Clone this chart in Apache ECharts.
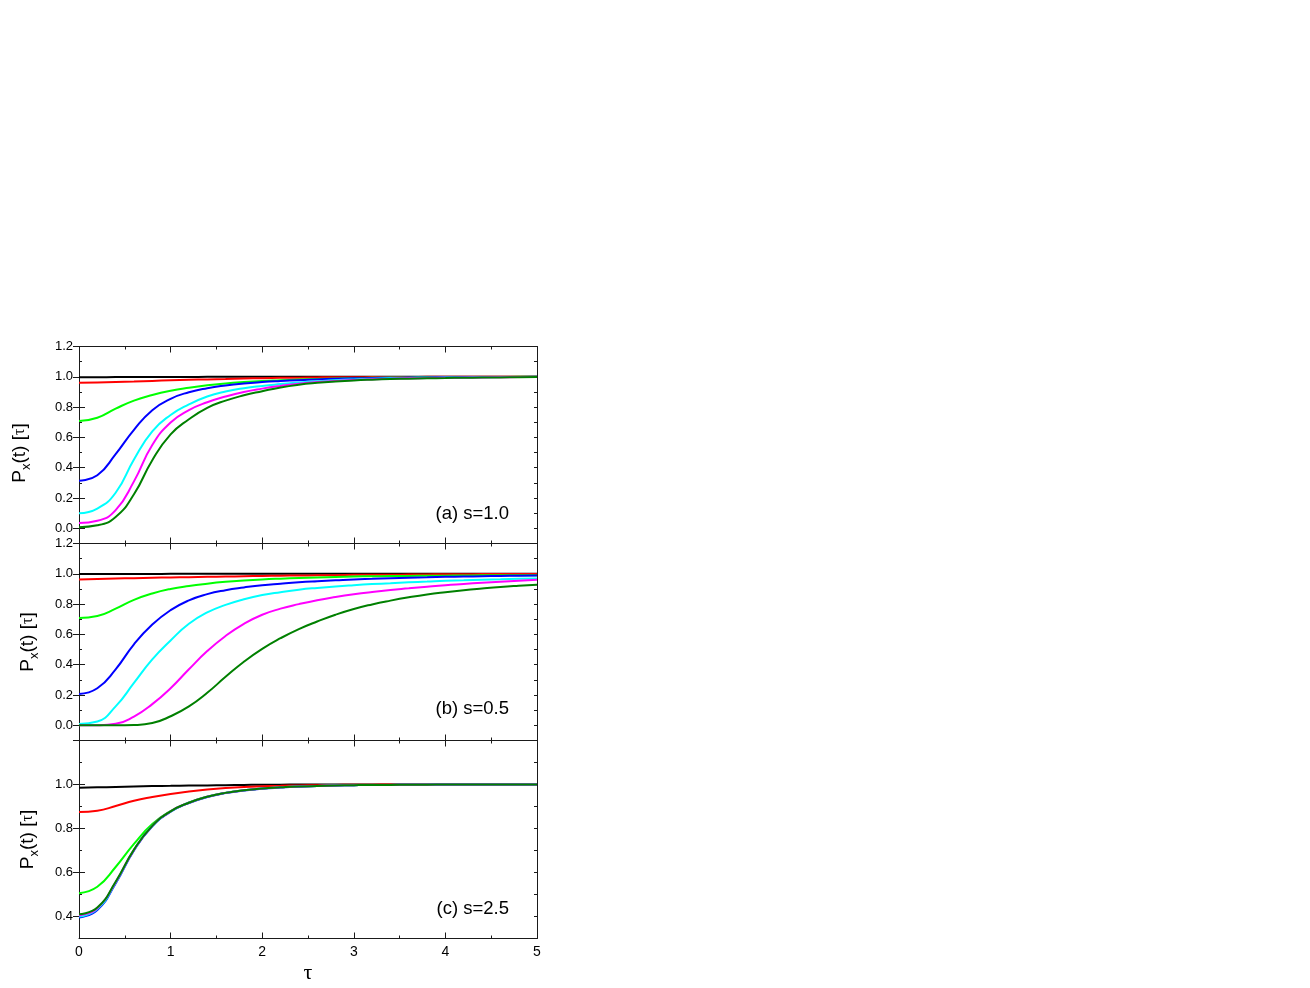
<!DOCTYPE html>
<html><head><meta charset="utf-8">
<script src="https://cdn.jsdelivr.net/npm/echarts@6/dist/echarts.min.js"></script>
<style>html,body{margin:0;padding:0;background:#fff}#c{width:1310px;height:988px}</style>
</head><body><div id="c"></div>
<script>
// ---- data ----
const tau = [0,0.2,0.4,0.6,0.8,1.0,1.2,1.4,1.6,1.8,2.0,2.2,2.4,2.6,2.8,3.0,3.2,3.4,3.6,3.8,4.0,4.2,4.4,4.6,4.8,5.0];
const xTicks = [0,1,2,3,4,5];
const panelLabels = ['(a) s=1.0','(b) s=0.5','(c) s=2.5'];
const seriesColors = ['#000000','#ff0000','#00ff00','#0000ff','#00ffff','#ff00ff','#008000'];

// panel (a) s=1.0
const aBlack   = [0.997,0.997,0.998,0.998,0.999,0.999,0.999,1,1,1,1,1,1,1,1,1,1,1,1,1,1,1,1,1,1,1];
const aRed     = [0.960,0.963,0.966,0.969,0.973,0.977,0.980,0.983,0.986,0.989,0.991,0.993,0.994,0.996,0.997,0.997,0.998,0.999,0.999,1,1,1,1,1,1,1];
const aGreen   = [0.708,0.730,0.790,0.843,0.880,0.908,0.928,0.944,0.956,0.965,0.972,0.977,0.982,0.986,0.989,0.991,0.993,0.995,0.996,0.997,0.998,0.998,0.999,0.999,1,1];
const aBlue    = [0.314,0.350,0.490,0.650,0.780,0.855,0.898,0.925,0.943,0.956,0.965,0.972,0.978,0.983,0.987,0.990,0.992,0.994,0.995,0.996,0.997,0.998,0.998,0.999,0.999,1];
const aCyan    = [0.099,0.130,0.235,0.455,0.640,0.748,0.818,0.870,0.903,0.925,0.940,0.952,0.963,0.971,0.978,0.983,0.987,0.990,0.992,0.994,0.995,0.996,0.997,0.998,0.998,0.999];
const aMagenta = [0.035,0.050,0.120,0.310,0.550,0.698,0.780,0.832,0.870,0.900,0.922,0.940,0.955,0.965,0.973,0.979,0.984,0.987,0.990,0.992,0.994,0.995,0.996,0.997,0.998,0.998];
const aDkGreen = [0.008,0.020,0.075,0.225,0.450,0.620,0.720,0.795,0.843,0.878,0.905,0.930,0.948,0.960,0.969,0.976,0.981,0.985,0.988,0.990,0.992,0.994,0.995,0.996,0.997,0.998];

// panel (b) s=0.5
const bBlack   = [0.998,0.998,0.999,0.999,0.999,1,1,1,1,1,1,1,1,1,1,1,1,1,1,1,1,1,1,1,1,1];
const bRed     = [0.963,0.966,0.969,0.971,0.974,0.976,0.978,0.980,0.982,0.984,0.986,0.988,0.989,0.990,0.991,0.993,0.994,0.994,0.995,0.996,0.997,0.997,0.998,0.998,0.999,0.999];
const bGreen   = [0.709,0.722,0.770,0.828,0.870,0.900,0.920,0.935,0.947,0.956,0.963,0.968,0.972,0.976,0.979,0.982,0.984,0.985,0.986,0.987,0.988,0.989,0.990,0.990,0.991,0.991];
const bBlue    = [0.207,0.245,0.370,0.535,0.665,0.760,0.825,0.866,0.892,0.910,0.925,0.935,0.944,0.951,0.957,0.963,0.967,0.971,0.974,0.977,0.980,0.982,0.984,0.986,0.988,0.989];
const bCyan    = [0.009,0.025,0.125,0.280,0.435,0.560,0.670,0.745,0.795,0.832,0.860,0.879,0.895,0.907,0.917,0.925,0.932,0.938,0.944,0.949,0.954,0.957,0.961,0.964,0.967,0.969];
const bMagenta = [0.000,0.001,0.010,0.058,0.140,0.245,0.370,0.490,0.590,0.670,0.730,0.770,0.800,0.826,0.847,0.865,0.880,0.893,0.904,0.915,0.925,0.933,0.941,0.948,0.954,0.960];
const bDkGreen = [0.000,0.000,0.000,0.002,0.015,0.060,0.125,0.215,0.320,0.420,0.505,0.575,0.635,0.685,0.730,0.768,0.798,0.823,0.845,0.864,0.879,0.892,0.903,0.913,0.921,0.928];

// panel (c) s=2.5
const cBlack   = [0.985,0.987,0.989,0.991,0.993,0.994,0.995,0.996,0.997,0.998,0.999,0.999,1,1,1,1,1,1,1,1,1,1,1,1,1,1];
const cRed     = [0.875,0.881,0.902,0.926,0.943,0.957,0.968,0.977,0.984,0.989,0.992,0.994,0.996,0.997,0.998,0.999,0.999,1,1,1,1,1,1,1,1,1];
const cGreen   = [0.506,0.535,0.625,0.730,0.820,0.879,0.918,0.945,0.962,0.974,0.982,0.987,0.991,0.993,0.995,0.997,0.998,0.998,0.999,0.999,1,1,1,1,1,1];
const cBlue    = [0.396,0.430,0.550,0.700,0.810,0.876,0.916,0.943,0.961,0.973,0.981,0.986,0.990,0.993,0.995,0.997,0.998,0.998,0.999,0.999,1,1,1,1,1,1];
const cCyan    = [0.400,0.434,0.553,0.702,0.811,0.877,0.917,0.944,0.962,0.974,0.982,0.987,0.991,0.993,0.995,0.997,0.998,0.998,0.999,0.999,1,1,1,1,1,1];
const cMagenta = [0.405,0.438,0.556,0.703,0.812,0.878,0.917,0.944,0.962,0.974,0.982,0.987,0.991,0.993,0.995,0.997,0.998,0.998,0.999,0.999,1,1,1,1,1,1];
const cDkGreen = [0.410,0.441,0.558,0.704,0.812,0.878,0.917,0.944,0.962,0.974,0.982,0.987,0.991,0.993,0.995,0.997,0.998,0.998,0.999,0.999,1,1,1,1,1,1];

const yRanges = [[-0.1,1.2],[-0.1,1.2],[0.3,1.2]];
const yLabelTicks = [[0,0.2,0.4,0.6,0.8,1.0,1.2],[0,0.2,0.4,0.6,0.8,1.0,1.2],[0.4,0.6,0.8,1.0]];
const yMajorTicks = [[0,0.2,0.4,0.6,0.8,1.0,1.2],[0,0.2,0.4,0.6,0.8,1.0,1.2],[0.4,0.6,0.8,1.0,1.2]];
const panelData = [
  [aBlack,aRed,aGreen,aBlue,aCyan,aMagenta,aDkGreen],
  [bBlack,bRed,bGreen,bBlue,bCyan,bMagenta,bDkGreen],
  [cBlack,cRed,cGreen,cBlue,cCyan,cMagenta,cDkGreen]
];

// ---- layout ----
const FONT = 'Liberation Sans, Arial, sans-serif';
const gridTops = [346.5, 543.5, 740.5];
const gridHeights = [197, 197, 198];
const gridLeft = 79, gridWidth = 458;
const axisColor = '#1a1a1a';
const nameGaps = [46, 38, 38];
const namePads = [[0,16,0,0],[0,0,0,0],[0,0,0,0]];

const grids = [], xAxes = [], yAxes = [], series = [], graphics = [];
for (let p = 0; p < 3; p++) {
  grids.push({left: gridLeft, top: gridTops[p], width: gridWidth, height: gridHeights[p], containLabel: false});
  const last = p === 2;
  const xBase = {
    type: 'value', gridIndex: p, min: 0, max: 5, interval: 1,
    axisLine: {show: true, onZero: false, lineStyle: {color: axisColor, width: 1}},
    axisTick: {show: true, inside: true, length: 6, lineStyle: {color: axisColor}},
    minorTick: {show: true, splitNumber: 2, length: 3, lineStyle: {color: axisColor}},
    splitLine: {show: false}, minorSplitLine: {show: false}
  };
  xAxes.push(Object.assign({}, xBase, {
    position: 'bottom',
    axisLabel: {show: last, margin: 7, color: '#000', fontFamily: FONT, fontSize: 14,
      formatter: v => xTicks.includes(v) ? String(v) : ''},
    name: last ? 'τ' : '', nameLocation: 'middle', nameGap: 24,
    nameTextStyle: {fontFamily: 'Liberation Serif, DejaVu Serif, serif', fontSize: 22, color: '#000'}
  }));
  xAxes.push(Object.assign({}, xBase, {position: 'top', axisLabel: {show: false}}));

  const [ymin, ymax] = yRanges[p];
  const labs = yLabelTicks[p];
  const baseY = {
    type: 'value', gridIndex: p, min: ymin, max: ymax, interval: 0.1,
    splitLine: {show: false},
    axisLine: {show: true, onZero: false, lineStyle: {color: axisColor, width: 1}},
    axisTick: {show: true, inside: true, length: 3, lineStyle: {color: axisColor}}
  };
  const overY = {
    type: 'value', gridIndex: p, min: ymin, max: ymax, interval: 0.1,
    splitLine: {show: false}, axisLine: {show: false}, axisLabel: {show: false},
    axisTick: {show: true, inside: true, length: 6, customValues: yMajorTicks[p], lineStyle: {color: axisColor}}
  };
  yAxes.push(Object.assign({}, baseY, {
    position: 'left',
    axisLabel: {show: true, margin: 6, color: '#000', fontFamily: FONT, fontSize: 13, hideOverlap: false,
      showMinLabel: true, showMaxLabel: true,
      formatter: v => {
        const r = Math.round(v * 10);
        return labs.some(t => Math.round(t * 10) === r) ? (r / 10).toFixed(1) : '';
      }},
    name: '{a|P}{s|x}{a|(t) [}{t|τ}{a|]}',
    nameLocation: 'middle', nameRotate: 90, nameGap: nameGaps[p],
    nameTextStyle: {
      padding: namePads[p],
      rich: {
        a: {fontFamily: FONT, fontSize: 19, color: '#000', lineHeight: 26},
        s: {fontFamily: FONT, fontSize: 13, color: '#000', verticalAlign: 'bottom', lineHeight: 13},
        t: {fontFamily: 'Liberation Serif, DejaVu Serif, serif', fontSize: 16, color: '#000', lineHeight: 26}
      }
    }
  }));
  yAxes.push(Object.assign({}, overY, {position: 'left'}));
  yAxes.push(Object.assign({}, baseY, {position: 'right', axisLabel: {show: false}}));
  yAxes.push(Object.assign({}, overY, {position: 'right'}));

  panelData[p].forEach((arr, k) => {
    series.push({
      type: 'line', xAxisIndex: 2 * p, yAxisIndex: 4 * p,
      data: tau.map((t, i) => [t, arr[i]]),
      showSymbol: false, smooth: 0.5,
      lineStyle: {color: seriesColors[k], width: 2},
      itemStyle: {color: seriesColors[k]},
      clip: true, z: 2 + k, animation: false
    });
  });
}
const labelY = [514, 709, 909];
labelY.forEach((y, p) => {
  graphics.push({type: 'text', x: 509, y: y, z: 100,
    style: {text: panelLabels[p], fontFamily: FONT, fontSize: 18.5, fill: '#000', align: 'right', verticalAlign: 'middle'}});
});

const chart = echarts.init(document.getElementById('c'), null, {renderer: 'canvas'});
chart.setOption({
  backgroundColor: '#ffffff',
  animation: false,
  grid: grids, xAxis: xAxes, yAxis: yAxes, series: series, graphic: graphics
});
</script></body></html>
